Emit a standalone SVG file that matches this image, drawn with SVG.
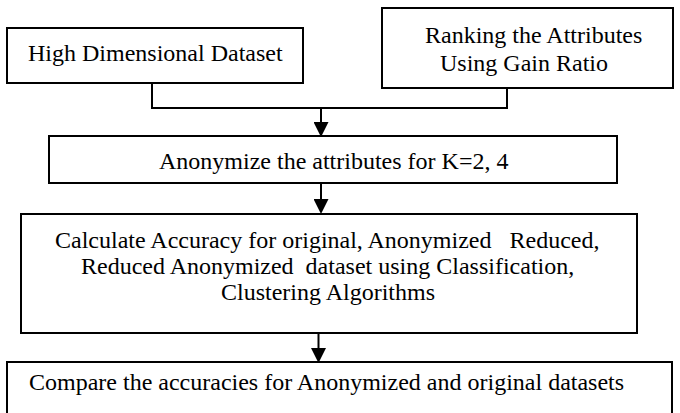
<svg xmlns="http://www.w3.org/2000/svg" width="680" height="413" viewBox="0 0 680 413">
<style>
  .box { fill: #ffffff; stroke: #000000; stroke-width: 2; }
  .lbl { font-family: "Liberation Serif", "Times New Roman", serif; font-size: 24px; fill: #000000; white-space: pre; }
  .conn { fill: none; stroke: #000000; stroke-width: 2; }
</style>
<defs>
  <marker id="arrow" markerUnits="userSpaceOnUse" markerWidth="15" markerHeight="15" refX="0" refY="7.5" orient="auto" viewBox="0 0 15 15">
    <path d="M0,0 L15,7.5 L0,15 Z" fill="#000000"/>
  </marker>
</defs>
<rect width="680" height="413" fill="#ffffff"/>
<g id="connectors">
  <polyline class="conn" points="152,83 152,108 507,108 507,88"/>
  <line class="conn" x1="321" y1="108" x2="321" y2="122" marker-end="url(#arrow)"/>
  <line class="conn" x1="321" y1="183" x2="321" y2="199" marker-end="url(#arrow)"/>
  <line class="conn" x1="318.5" y1="333" x2="318.5" y2="348" marker-end="url(#arrow)"/>
</g>
<g id="node-high-dimensional">
  <rect class="box" x="7" y="28" width="296" height="55"/>
  <text class="lbl" x="28" y="61">High Dimensional Dataset</text>
</g>
<g id="node-ranking">
  <rect class="box" x="382" y="8" width="291" height="80"/>
  <text class="lbl" x="425" y="43">Ranking the Attributes</text>
  <text class="lbl" x="440" y="71">Using Gain Ratio</text>
</g>
<g id="node-anonymize">
  <rect class="box" x="49" y="136" width="568" height="47"/>
  <text class="lbl" x="159" y="169">Anonymize the attributes for K=2, 4</text>
</g>
<g id="node-calculate">
  <rect class="box" x="21" y="214" width="616" height="119"/>
  <text class="lbl" x="55" y="248">Calculate Accuracy for original, Anonymized   Reduced,</text>
  <text class="lbl" x="81" y="274">Reduced Anonymized  dataset using Classification,</text>
  <text class="lbl" x="221" y="300">Clustering Algorithms</text>
</g>
<g id="node-compare">
  <rect class="box" x="7" y="362" width="665" height="70"/>
  <text class="lbl" x="29" y="390">Compare the accuracies for Anonymized and original datasets</text>
</g>
</svg>
